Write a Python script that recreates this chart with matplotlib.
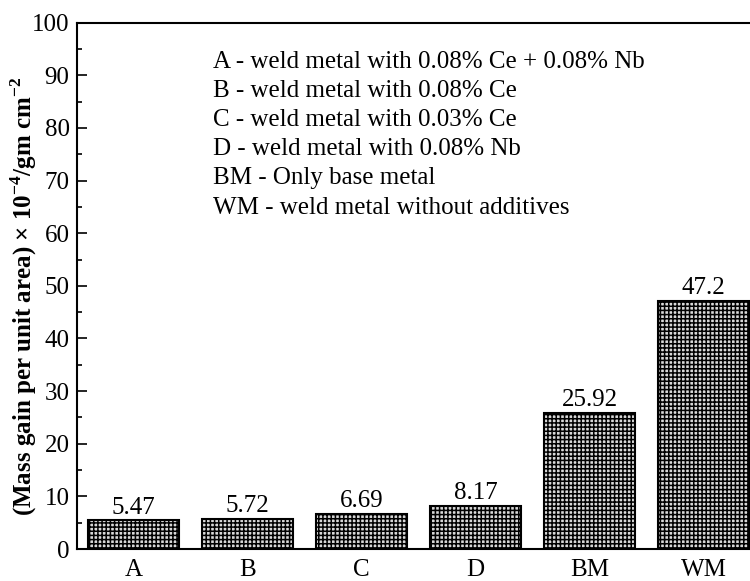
import matplotlib

matplotlib.use('Agg')
import matplotlib.pyplot as plt

# 数据
categories = ['A', 'B', 'C', 'D', 'BM', 'WM']
mass_gain = [5.47, 5.72, 6.69, 8.17, 25.92, 47.2]
value_labels = ['5.47', '5.72', '6.69', '8.17', '25.92', '47.2']
legend_lines = [
    'A - weld metal with 0.08% Ce + 0.08% Nb',
    'B - weld metal with 0.08% Ce',
    'C - weld metal with 0.03% Ce',
    'D - weld metal with 0.08% Nb',
    'BM - Only base metal',
    'WM - weld metal without additives',
]

plt.rcParams['font.family'] = ['Liberation Serif', 'DejaVu Serif']
plt.rcParams['mathtext.fontset'] = 'custom'
plt.rcParams['mathtext.rm'] = 'Liberation Serif'
plt.rcParams['mathtext.bf'] = 'Liberation Serif:bold'
plt.rcParams['hatch.linewidth'] = 1.1

fig = plt.figure(figsize=(7.5, 5.81), dpi=100)
ax = fig.add_axes([0.102, 0.055, 0.912, 0.906])

x = list(range(len(categories)))
bars = ax.bar(x, mass_gain, width=0.8, facecolor='#d8d8d8', edgecolor='black',
              hatch='++++', linewidth=1.5)

for xi, v, lab in zip(x, mass_gain, value_labels):
    ax.text(xi, v + 0.3, lab, ha='center', va='bottom', fontsize=18)

ax.set_xlim(-0.5, 5.5)
ax.set_ylim(0, 100)
ax.set_xticks(x)
ax.set_xticklabels(categories, fontsize=18)
ax.set_yticks(range(0, 101, 10))
ax.set_yticks(range(5, 100, 10), minor=True)
ax.tick_params(axis='y', direction='in', length=7, width=1.2, labelsize=18, pad=5)
ax.tick_params(axis='y', which='minor', direction='in', length=3.6, width=1.2)
ax.tick_params(axis='x', length=0, pad=7.5)

for s in ['left', 'bottom', 'top']:
    ax.spines[s].set_linewidth(1.5)
ax.spines['right'].set_visible(False)

ax.set_ylabel(r'(Mass gain per unit area) × 10$^{\mathbf{-4}}$/gm cm$^{\mathbf{-2}}$',
              fontsize=18, fontweight='bold', va='center')
ax.yaxis.set_label_coords(-0.077, 0.48)

for i, line in enumerate(legend_lines):
    ax.text(0.7, 92.6 - i * 5.55, line, fontsize=18, va='center', ha='left')

fig.savefig('out.png', dpi=100)
